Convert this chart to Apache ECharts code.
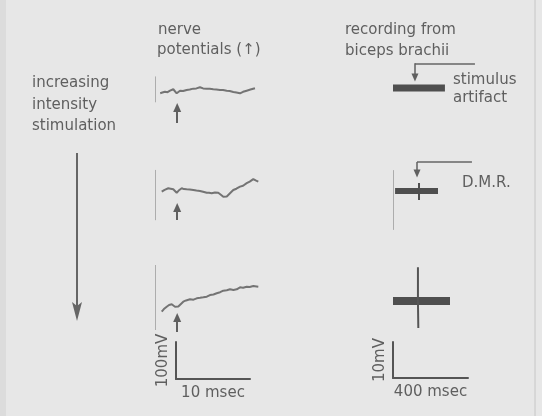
<!DOCTYPE html>
<html><head><meta charset="utf-8">
<script src="https://cdn.jsdelivr.net/npm/echarts@6/dist/echarts.min.js"></script>
<style>html,body{margin:0;padding:0;background:#e7e7e7}#c{width:542px;height:416px}</style>
</head><body><div id="c"></div><script>
// ---- nerve potentials: time (ms) and potential (mV, relative to the pre-stimulus level)
const nerveT1 = [0.7,1.0,1.35,1.7,2.03,2.3,2.47,2.7,2.93,3.15,3.38,3.8,4.28,4.7,5.18,5.6,6.08,6.5,6.99,7.4,7.88,8.3,8.78,9.2,9.69,10.1,10.58,11.0,11.49,11.9,12.39,12.9,13.51];
const nerveV1 = [0,2,4.3,3,7,9,10.8,6,0,4,7,6,8.9,10,12.4,13,16.2,13,12.4,12,10.8,10,8.9,9,7,6,3.5,2,0,4,7,10,13.5];
const nerveT2 = [0.91,1.3,1.8,2.1,2.47,2.7,2.93,3.2,3.61,3.9,4.28,4.7,5.18,5.6,6.08,6.5,6.99,7.3,7.66,8.1,8.55,8.9,9.23,9.46,9.7,9.91,10.2,10.58,11.0,11.49,11.9,12.39,12.8,13.28,13.6,13.96];
const nerveV2 = [0,5,9.2,8,6.5,2,-2.7,3,9.2,7,6.5,6,4.6,3,1.9,0,-2.7,-3,-4.3,-2,-2.7,-8,-13.5,-17.8,-13,-8.9,-3,4.6,8,13.5,16,22.7,27,33.5,30,27];
const nerveT3 = [0.91,1.2,1.58,1.9,2.26,2.5,2.7,2.93,3.15,3.38,3.82,4.2,4.73,5.2,5.64,6.1,6.53,7.0,7.43,7.9,8.34,8.8,9.23,9.7,10.14,10.6,11.04,11.49,11.9,12.39,12.8,13.28,13.96];
const nerveV3 = [0,7,13.3,18,19.7,16,13.3,9.1,14,17.9,26.7,30,33.1,32,35.7,37,38.4,40,44.5,46,49.1,52,56,57,59.7,58,59.7,65.1,64,66.7,66,68.5,66.7];
const nerveStimMs = 3;

// ---- biceps brachii recording: time (ms) and potential (mV)
const bandT1 = [0,140,277];   const bandV1 = [0,0,0];
const bandT2 = [11,125,240];  const bandV2 = [0,0,0];
const spikeT2 = [138.7,138.7]; const spikeV2 = [2.2,-2.5];
const bandT3 = [0,150,304];   const bandV3 = [0,0,0];
const spikeT3 = [133,133,135,135]; const spikeV3 = [9.4,0,0,-7.5];
const artifactMs = 117, dmrMs = 128;

// ---- scale bars
const nerveScale = {ms:10, mV:100, xLabel:'10 msec', yLabel:'100mV'};
const muscleScale = {ms:400, mV:10, xLabel:'400 msec', yLabel:'10mV'};

const zip = (t, v) => t.map((x, i) => [x, v[i]]);
const FONT = '"DejaVu Sans", sans-serif';
const TXT = '#5f5f5f';
const S_N = 0.375, PX_MS = 7.4;        // px per mV / ms, nerve
const S_M = 3.6, PX_MS_M = 0.1875;     // px per mV / ms, muscle

function grid(left, base, vmin, vmax, sy, xmax, pxms) {
  return {left: left, top: base - vmax * sy, height: (vmax - vmin) * sy, width: xmax * pxms, containLabel:false};
}
const grids = [
  grid(155, 93.3, -80, 45, S_N, 14, PX_MS),
  grid(155, 191.7, -82, 58, S_N, 14, PX_MS),
  grid(155, 311.7, -56, 125, S_N, 14, PX_MS),
  {left:176, top:342, width:nerveScale.ms * PX_MS, height:37},
  grid(393, 88, -3, 8, S_M, 460, PX_MS_M),
  grid(393, 191, -12, 9, S_M, 440, PX_MS_M),
  grid(393, 301, -9, 10, S_M, 320, PX_MS_M),
  {left:393, top:342, width:muscleScale.ms * PX_MS_M, height:36}
];
const ranges = [[0,14,-80,45],[0,14,-82,58],[0,14,-56,125],[0,nerveScale.ms,0,nerveScale.mV],[0,460,-3,8],[0,440,-12,9],[0,320,-9,10],[0,muscleScale.ms,0,muscleScale.mV]];
const xAxes = [], yAxes = [];
ranges.forEach((r, i) => {
  const isScale = (i === 3 || i === 7);
  const sc = i === 3 ? nerveScale : muscleScale;
  const line = {show:isScale, onZero:false, lineStyle:{color:'#555', width:2}};
  xAxes.push({type:'value', gridIndex:i, min:r[0], max:r[1], axisLine:line, axisTick:{show:false}, axisLabel:{show:false}, splitLine:{show:false},
    name: isScale ? sc.xLabel : '', nameLocation:'middle', nameGap:7,
    nameTextStyle:{color:TXT, fontSize:15, fontFamily:FONT, verticalAlign:'top'}});
  yAxes.push({type:'value', gridIndex:i, min:r[2], max:r[3], axisLine:line, axisTick:{show:false}, axisLabel:{show:false}, splitLine:{show:false},
    name: isScale ? sc.yLabel : '', nameLocation:'middle', nameRotate:90, nameGap:5,
    nameTextStyle:{color:TXT, fontSize:15, fontFamily:FONT}});
});

function ml(items) {
  return {silent:true, animation:false, symbol:['none','none'], label:{show:false}, emphasis:{disabled:true},
    lineStyle:{type:'solid', color:'#666', width:2}, data: items};
}
function arrowItem(x, y0, y1, w, size) {
  const ls = {type:'solid', color:'#606060', width:w};
  return [{coord:[x, y0], symbol:'none', lineStyle:ls}, {coord:[x, y1], symbol:'triangle', symbolSize:size, lineStyle:ls, itemStyle:{color:'#606060'}}];
}
function faintItem(x, y0, y1) {
  const ls = {type:'solid', color:'#adadad', width:1};
  return [{coord:[x, y0], symbol:'none', lineStyle:ls}, {coord:[x, y1], symbol:'none', lineStyle:ls}];
}
function segItem(x0, y0, x1, y1) {
  const ls = {type:'solid', color:'#666', width:1.5};
  return [{coord:[x0, y0], symbol:'none', lineStyle:ls}, {coord:[x1, y1], symbol:'none', lineStyle:ls}];
}
const nerveLine = {type:'solid', color:'#747474', width:2};
const bandColor = '#4f4f4f';
const series = [
  {type:'line', xAxisIndex:0, yAxisIndex:0, data:zip(nerveT1,nerveV1), showSymbol:false, lineStyle:nerveLine,
   markLine: ml([arrowItem(nerveStimMs,-79,-37.9,2,[8,9]), faintItem(0,-24,45)])},
  {type:'line', xAxisIndex:1, yAxisIndex:1, data:zip(nerveT2,nerveV2), showSymbol:false, lineStyle:nerveLine,
   markLine: ml([arrowItem(nerveStimMs,-75.5,-42.1,2,[8,9]), faintItem(0,-76,58)])},
  {type:'line', xAxisIndex:2, yAxisIndex:2, data:zip(nerveT3,nerveV3), showSymbol:false, lineStyle:nerveLine,
   markLine: ml([arrowItem(nerveStimMs,-54,-15.5,2,[8,9]), faintItem(0,-48.8,124.5)])},
  {type:'line', xAxisIndex:4, yAxisIndex:4, data:zip(bandT1,bandV1), showSymbol:false, lineStyle:{color:bandColor, width:7, cap:'butt'},
   markLine: ml([segItem(artifactMs,6.86,437,6.86), arrowItem(artifactMs,6.86,2.9,1.5,[7,8])])},
  {type:'line', xAxisIndex:5, yAxisIndex:5, data:zip(bandT2,bandV2), showSymbol:false, lineStyle:{color:bandColor, width:6, cap:'butt'},
   markLine: ml([segItem(dmrMs,8.06,421,8.06), arrowItem(dmrMs,8.06,4.86,1.5,[7,8]), faintItem(0,-10.8,5.8)])},
  {type:'line', xAxisIndex:5, yAxisIndex:5, data:zip(spikeT2,spikeV2), showSymbol:false, lineStyle:{color:bandColor, width:2}},
  {type:'line', xAxisIndex:6, yAxisIndex:6, data:zip(bandT3,bandV3), showSymbol:false, lineStyle:{color:bandColor, width:8, cap:'butt'}},
  {type:'line', xAxisIndex:6, yAxisIndex:6, data:zip(spikeT3,spikeV3), showSymbol:false, lineStyle:{color:'#555', width:2}}
];

function txt(x, y, s) {
  return {type:'text', x:x, y:y, silent:true, style:{text:s, fill:TXT, font:'15px ' + FONT, verticalAlign:'middle', align:'left'}};
}
const graphic = [
  {type:'rect', shape:{x:0, y:0, width:6, height:416}, style:{fill:'#dcdcdc'}, silent:true},
  {type:'line', shape:{x1:535, y1:0, x2:535, y2:416}, style:{stroke:'#c6c6c6', lineWidth:1}, silent:true},
  txt(158, 30, 'nerve'),
  txt(157, 50, 'potentials (\u2191)'),
  txt(345, 30, 'recording from'),
  txt(345, 51, 'biceps brachii'),
  txt(32, 83, 'increasing'),
  txt(32, 105, 'intensity'),
  txt(32, 126, 'stimulation'),
  txt(453, 80, 'stimulus'),
  txt(453, 98, 'artifact'),
  txt(462, 183, 'D.M.R.'),
  {type:'line', shape:{x1:77, y1:153, x2:77, y2:308}, style:{stroke:'#666', lineWidth:2}, silent:true},
  {type:'polygon', shape:{points:[[72,302],[77,321],[82,302],[77,306]]}, style:{fill:'#666'}, silent:true}
];

const chart = echarts.init(document.getElementById('c'), null, {renderer:'canvas'});
chart.setOption({
  backgroundColor:'#e7e7e7', animation:false,
  grid: grids, xAxis: xAxes, yAxis: yAxes, series: series, graphic: graphic,
  tooltip:{show:false}
});
</script></body></html>
